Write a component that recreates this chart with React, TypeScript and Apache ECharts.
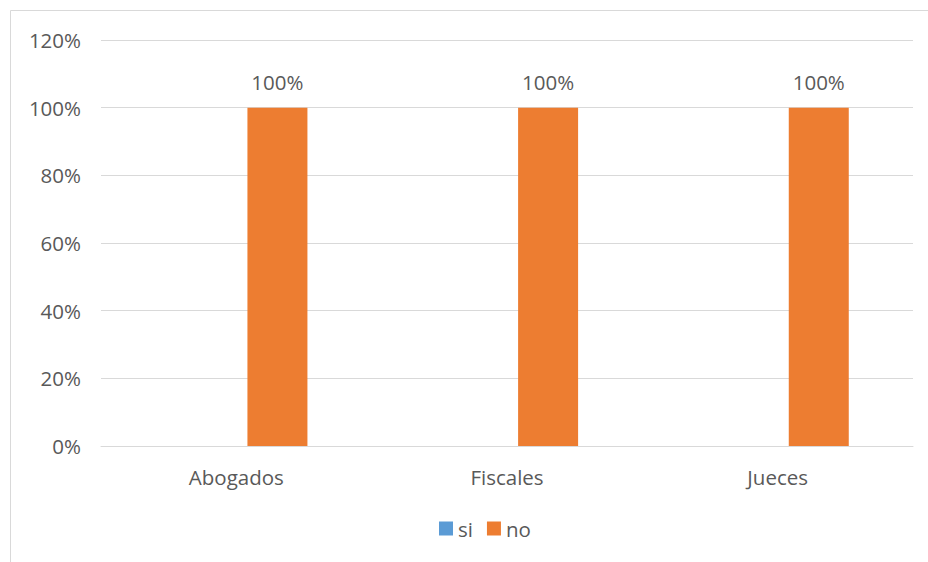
import React, { useEffect, useRef } from "react";
import * as echarts from "echarts";

const categories = ["Abogados", "Fiscales", "Jueces"];
const siValues = [0, 0, 0];
const noValues = [100, 100, 100];
const yTicks = [0, 20, 40, 60, 80, 100, 120];

const FONT = "'Open Sans', 'Noto Sans', sans-serif";
const TEXT = "#595959";
const FS = 20.5;

export default function App() {
  const ref = useRef<HTMLDivElement>(null);

  useEffect(() => {
    const chart = echarts.init(ref.current!, null, { renderer: "svg" });
    chart.setOption({
      animation: false,
      backgroundColor: "#ffffff",
      textStyle: { fontFamily: FONT },
      graphic: [
        {
          type: "rect",
          shape: { x: 10.5, y: 10.5, width: 1000, height: 600 },
          style: { fill: "none", stroke: "#d9d9d9", lineWidth: 1 },
          silent: true,
        },
      ],
      grid: { left: 101, right: 15, top: 40, bottom: 116 },
      legend: {
        bottom: 18,
        left: 434,
        itemWidth: 14,
        itemHeight: 14,
        itemGap: 14,
        icon: "rect",
        textStyle: { color: TEXT, fontSize: FS, fontFamily: FONT },
        data: ["si", "no"],
      },
      xAxis: {
        type: "category",
        data: categories,
        axisLine: { lineStyle: { color: "#d9d9d9", width: 1 } },
        axisTick: { show: false },
        axisLabel: { color: TEXT, fontSize: FS, margin: 20, fontFamily: FONT },
      },
      yAxis: {
        type: "value",
        min: yTicks[0],
        max: yTicks[yTicks.length - 1],
        interval: 20,
        axisLine: { show: false },
        axisTick: { show: false },
        splitLine: { lineStyle: { color: "#d9d9d9", width: 1 } },
        axisLabel: {
          color: TEXT,
          fontSize: FS,
          margin: 20,
          fontFamily: FONT,
          formatter: (v: number) => `${v}%`,
        },
      },
      series: [
        {
          name: "si",
          type: "bar",
          data: siValues,
          barWidth: 60,
          barGap: "37%",
          itemStyle: { color: "#5B9BD5" },
        },
        {
          name: "no",
          type: "bar",
          data: noValues,
          barWidth: 60,
          barGap: "37%",
          itemStyle: { color: "#ED7D31" },
          label: {
            show: true,
            position: "top",
            distance: 15,
            color: TEXT,
            fontSize: FS,
            fontFamily: FONT,
            formatter: (p: any) => `${p.value}%`,
          },
        },
      ],
    });
    return () => chart.dispose();
  }, []);

  return (
    <div
      ref={ref}
      style={{ position: "fixed", left: 0, top: 0, width: 928, height: 562 }}
    />
  );
}
